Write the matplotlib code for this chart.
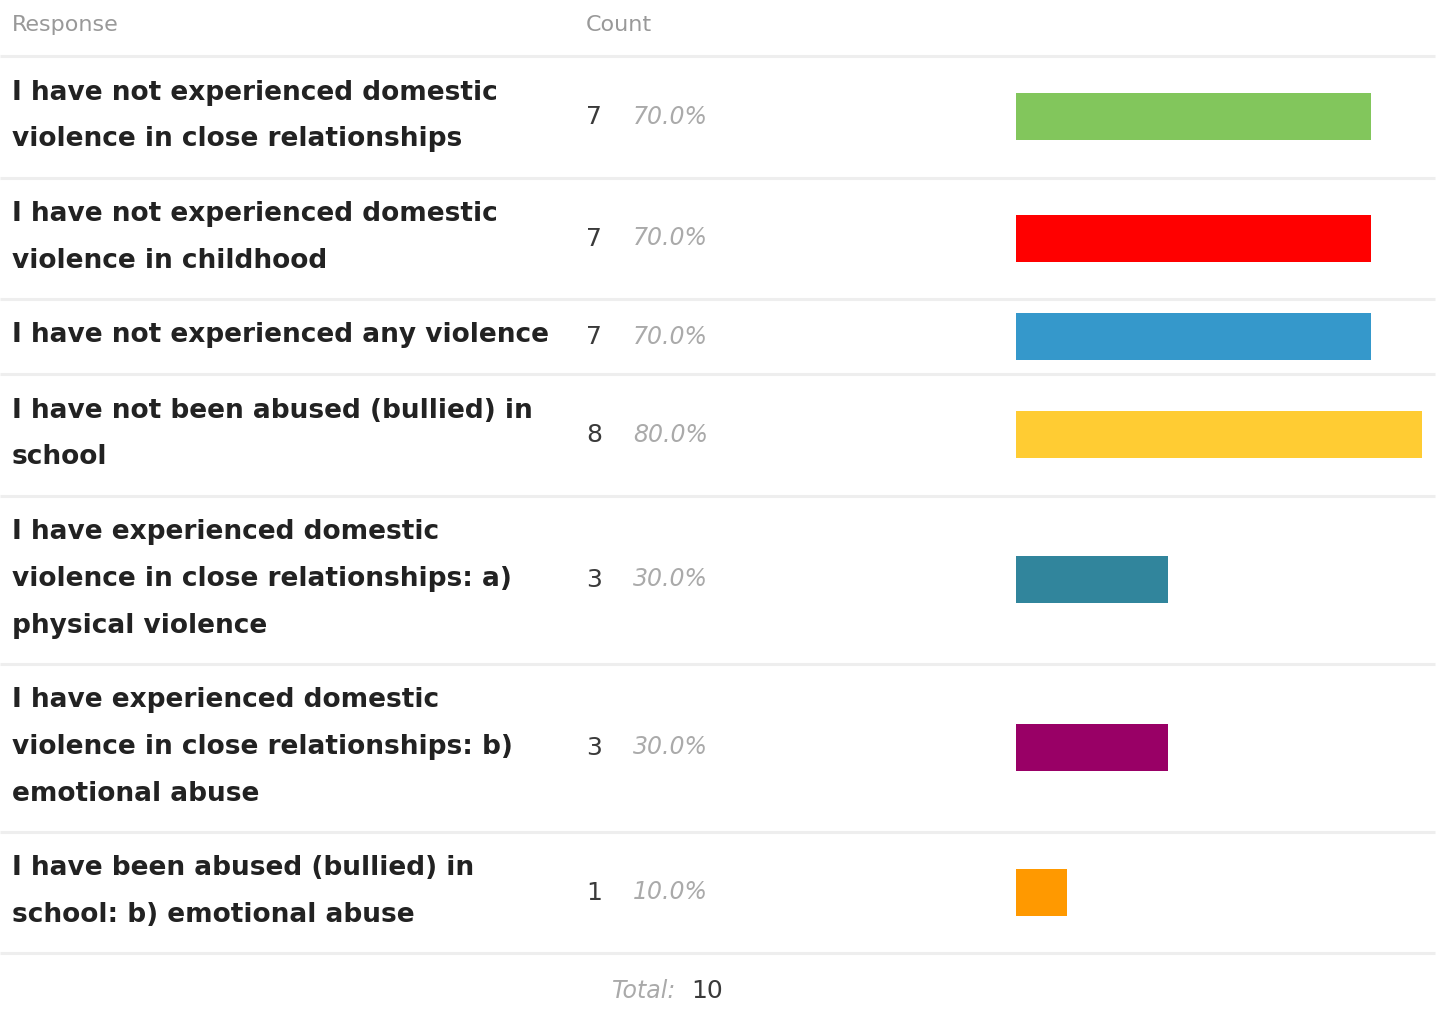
import matplotlib
matplotlib.use("Agg")
import matplotlib.pyplot as plt
import numpy as np

# survey data
responses = [
    "I have not experienced domestic\nviolence in close relationships",
    "I have not experienced domestic\nviolence in childhood",
    "I have not experienced any violence",
    "I have not been abused (bullied) in\nschool",
    "I have experienced domestic\nviolence in close relationships: a)\nphysical violence",
    "I have experienced domestic\nviolence in close relationships: b)\nemotional abuse",
    "I have been abused (bullied) in\nschool: b) emotional abuse",
]
counts = [7, 7, 7, 8, 3, 3, 1]
percents = [70.0, 70.0, 70.0, 80.0, 30.0, 30.0, 10.0]
total = 10
bar_colors = ['#82c65c', '#ff0000', '#3598cb', '#ffcc33', '#31859c', '#990066', '#ff9900']

W, H = 1438, 1025
fig = plt.figure(figsize=(W / 100, H / 100), dpi=100)
ax = fig.add_axes([0, 0, 1, 1])
ax.set_xlim(0, W)
ax.set_ylim(H, 0)
ax.axis('off')

line_col = '#eeeeee'
lab_fs = 19
line_h = 46.8

# header
ax.text(12, 31, "Response", fontsize=16, color='#999999', va='baseline')
ax.text(586, 31, "Count", fontsize=16, color='#999999', va='baseline')

top = 56
ax.plot([0, 1435], [top, top], color=line_col, lw=2.2, solid_capstyle='butt')

centers = []
for i, lab in enumerate(responses):
    lines = lab.split('\n')
    row_h = 28.5 + 46.5 * len(lines)
    for j, ln in enumerate(lines):
        ax.text(12, top + 43.5 + j * line_h, ln, fontsize=lab_fs, fontweight='bold',
                color='#222222', va='baseline')
    mid = top + row_h / 2
    centers.append(mid)
    ax.text(586, mid + 7.5, str(counts[i]), fontsize=18, color='#3a3a3a', va='baseline')
    ax.text(633, mid + 7, f"{percents[i]:.1f}%", fontsize=17, style='italic',
            color='#aaaaaa', va='baseline')
    top += row_h
    ax.plot([0, 1435], [top, top], color=line_col, lw=2.2, solid_capstyle='butt')

counts_arr = np.array(counts, dtype=float)
widths = counts_arr / counts_arr.max() * 406
ax.barh(centers, widths, left=1016, height=47, color=bar_colors)

ax.text(676, 998, "Total:", fontsize=17, style='italic', color='#aaaaaa',
        va='baseline', ha='right')
ax.text(691, 998, str(total), fontsize=18, color='#3a3a3a', va='baseline')

fig.savefig("out.png", dpi=100)
